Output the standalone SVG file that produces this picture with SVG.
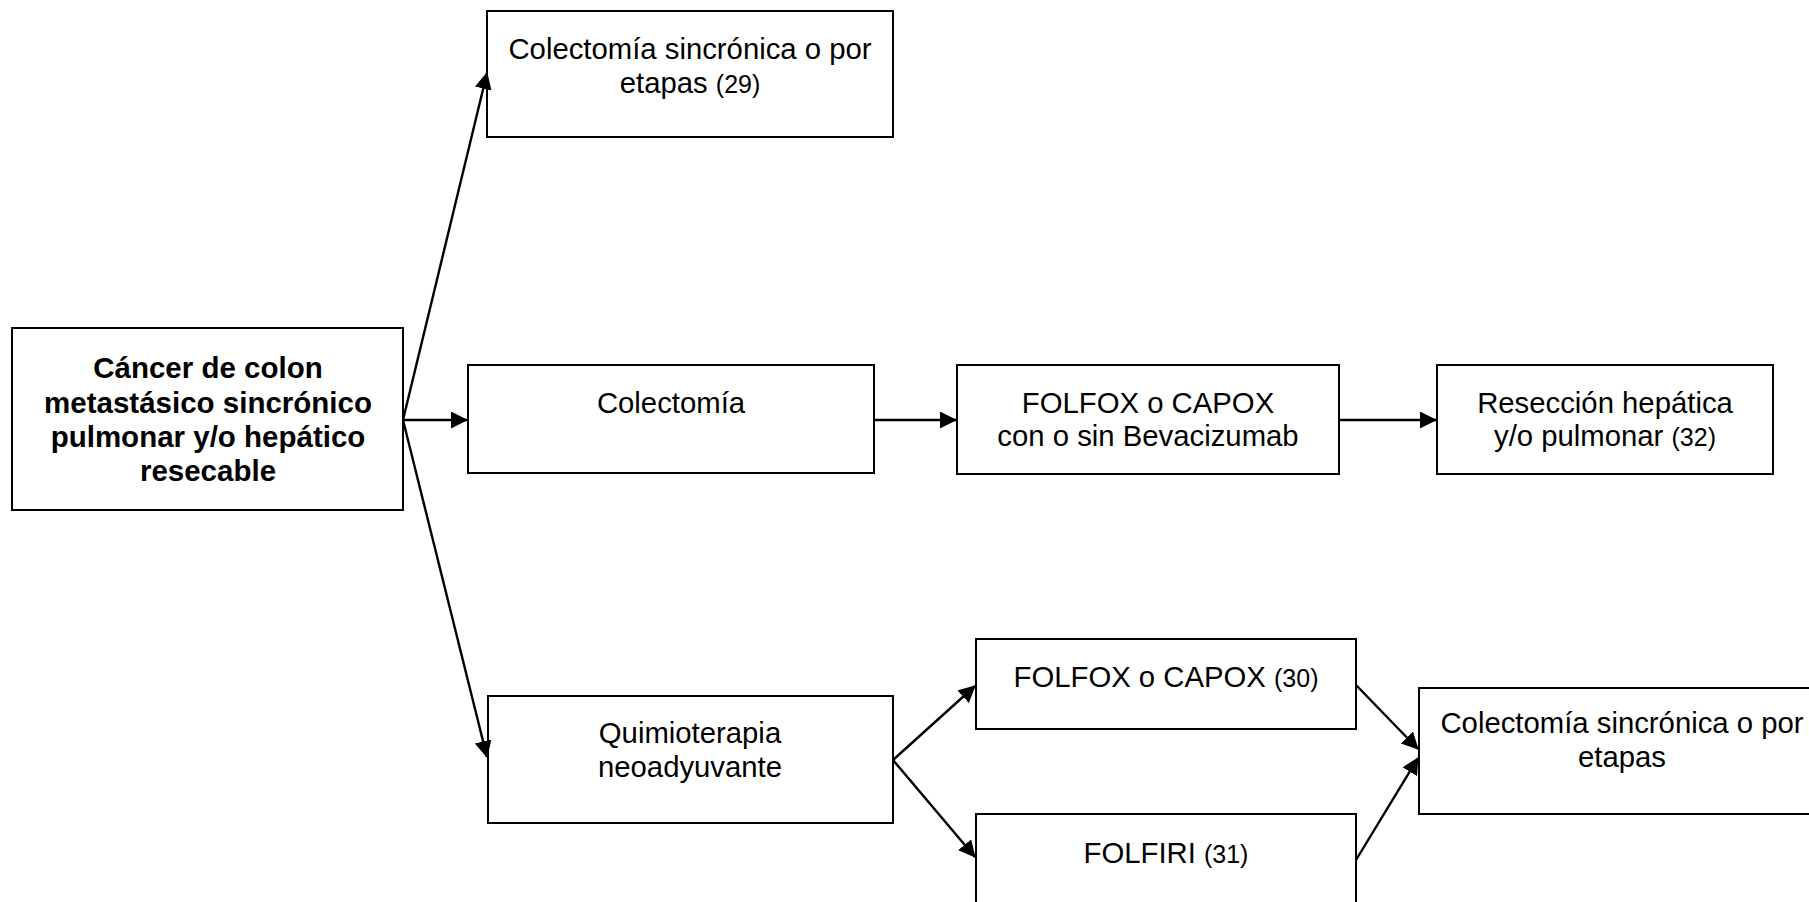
<svg xmlns="http://www.w3.org/2000/svg" width="1809" height="902" viewBox="0 0 1809 902">
<style>
.box{fill:#fff;stroke:#000;stroke-width:2}
.t{font-family:"Liberation Sans",Arial,sans-serif;font-size:29.3px;fill:#000;text-anchor:middle}
.b{font-weight:bold;font-size:29.5px}
.ref{font-size:25px}
.c{stroke:#000;stroke-width:2.4;fill:none;marker-end:url(#ah)}
</style>
<defs>
<marker id="ah" viewBox="0 0 17 17" markerWidth="17" markerHeight="17" refX="16" refY="8.5" orient="auto" markerUnits="userSpaceOnUse">
<path d="M0,0 L17,8.5 L0,17 z" fill="#000"/>
</marker>
</defs>
<rect width="1809" height="902" fill="#fff"/>
<g id="n-main">
<rect class="box" x="12" y="328" width="391" height="182"/>
<text class="t b"><tspan x="208" y="378">Cáncer de colon</tspan><tspan x="208" y="412.5">metastásico sincrónico</tspan><tspan x="208" y="447">pulmonar y/o hepático</tspan><tspan x="208" y="481">resecable</tspan></text>
</g>
<g id="n-top">
<rect class="box" x="487" y="11" width="406" height="126"/>
<text class="t"><tspan x="690" y="59">Colectomía sincrónica o por</tspan><tspan x="690" y="93">etapas <tspan class="ref">(29)</tspan></tspan></text>
</g>
<g id="n-colectomia">
<rect class="box" x="468" y="365" width="406" height="108"/>
<text class="t"><tspan x="671" y="413">Colectomía</tspan></text>
</g>
<g id="n-folfox">
<rect class="box" x="957" y="365" width="382" height="109"/>
<text class="t"><tspan x="1148" y="413">FOLFOX o CAPOX</tspan><tspan x="1148" y="446">con o sin Bevacizumab</tspan></text>
</g>
<g id="n-reseccion">
<rect class="box" x="1437" y="365" width="336" height="109"/>
<text class="t"><tspan x="1605" y="413">Resección hepática</tspan><tspan x="1605" y="446">y/o pulmonar <tspan class="ref">(32)</tspan></tspan></text>
</g>
<g id="n-quimio">
<rect class="box" x="488" y="696" width="405" height="127"/>
<text class="t"><tspan x="690" y="743">Quimioterapia</tspan><tspan x="690" y="777">neoadyuvante</tspan></text>
</g>
<g id="n-folfox30">
<rect class="box" x="976" y="639" width="380" height="90"/>
<text class="t"><tspan x="1166" y="687">FOLFOX o CAPOX <tspan class="ref">(30)</tspan></tspan></text>
</g>
<g id="n-folfiri">
<rect class="box" x="976" y="814" width="380" height="100"/>
<text class="t"><tspan x="1166" y="863">FOLFIRI <tspan class="ref">(31)</tspan></tspan></text>
</g>
<g id="n-final">
<rect class="box" x="1419" y="688" width="411" height="126"/>
<text class="t"><tspan x="1622" y="733">Colectomía sincrónica o por</tspan><tspan x="1622" y="767">etapas</tspan></text>
</g>
<g id="connectors">
<line class="c" x1="403" y1="420" x2="487" y2="73"/>
<line class="c" x1="403" y1="420" x2="467" y2="420"/>
<line class="c" x1="403" y1="420" x2="487" y2="757"/>
<line class="c" x1="874" y1="420" x2="956" y2="420"/>
<line class="c" x1="1339" y1="420" x2="1436" y2="420"/>
<line class="c" x1="893" y1="760" x2="975" y2="686"/>
<line class="c" x1="893" y1="760" x2="975" y2="857"/>
<line class="c" x1="1356" y1="685" x2="1418" y2="749"/>
<line class="c" x1="1356" y1="860" x2="1418" y2="758"/>
</g>
</svg>
